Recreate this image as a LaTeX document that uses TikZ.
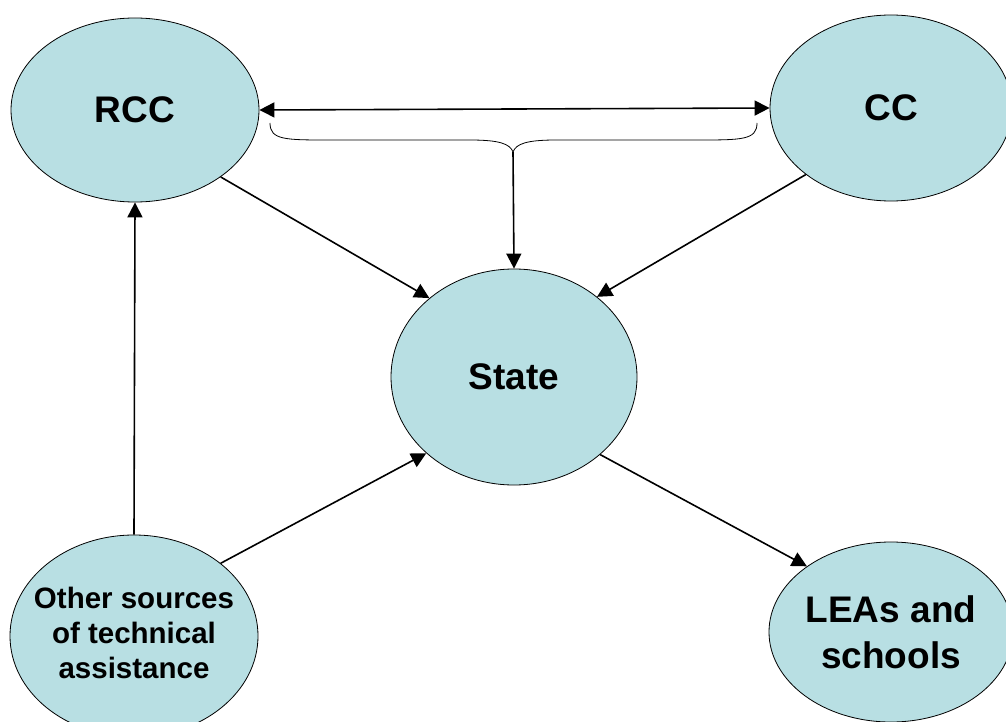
\documentclass[tikz,border=0pt]{standalone}
\usepackage{fontspec}
\setmainfont{Liberation Sans}
\usetikzlibrary{shapes.geometric,arrows.meta}
\definecolor{bubble}{RGB}{184,223,227}

\begin{document}
\begin{tikzpicture}[x=1pt, y=-1pt,
        agent/.style={ellipse, draw, line width=0.8pt, fill=bubble, inner sep=0pt,
            align=center, font=\bfseries},
        big/.style={font=\bfseries\fontsize{37}{46}\selectfont},
        link/.style={line width=1.6pt, -{Triangle[length=15pt,width=15pt]}}]
    \useasboundingbox (0,0) rectangle (1006,722);

    \node[agent, big, minimum width=248pt, minimum height=184pt] (rcc) at (135,110) {RCC};
    \node[agent, big, minimum width=242pt, minimum height=186pt] (cc) at (891,108) {CC};
    \node[agent, big, minimum width=246pt, minimum height=216pt] (state) at (514,377) {State};
    \node[agent, minimum width=248pt, minimum height=202pt,
        label={[align=center, font=\bfseries\fontsize{29.5}{35}\selectfont, yshift=3pt]center:Other sources\\of technical\\assistance}]
        (other) at (134,636) {};
    \node[agent, big, minimum width=244pt, minimum height=180pt] (leas) at (891,632) {LEAs and\\schools};

    % brace under the two-way link
    \draw[line width=0.8pt] (270,123) .. controls (270,140) and (285,140) .. (330,140)
        -- (470,140) .. controls (500,140) and (510,144) .. (513,152)
        .. controls (516,144) and (526,140) .. (556,140) -- (697,140)
        .. controls (742,140) and (757,140) .. (757,123);
    \coordinate (bracetip) at (513,152);

    \draw[link, {Triangle[length=15pt,width=15pt]}-{Triangle[length=15pt,width=15pt]}] (rcc.east) -- (cc.west);
    \draw[link] (bracetip) -- (state.north);
    \draw[link] (rcc.-38) -- (state.137);
    \draw[link] (cc.-142) -- (state.44);
    \draw[link] (other.north) -- (rcc.south);
    \draw[link] (other.40) -- (state.-139);
    \draw[link] (state.-42) -- (leas.142);
\end{tikzpicture}
\end{document}
